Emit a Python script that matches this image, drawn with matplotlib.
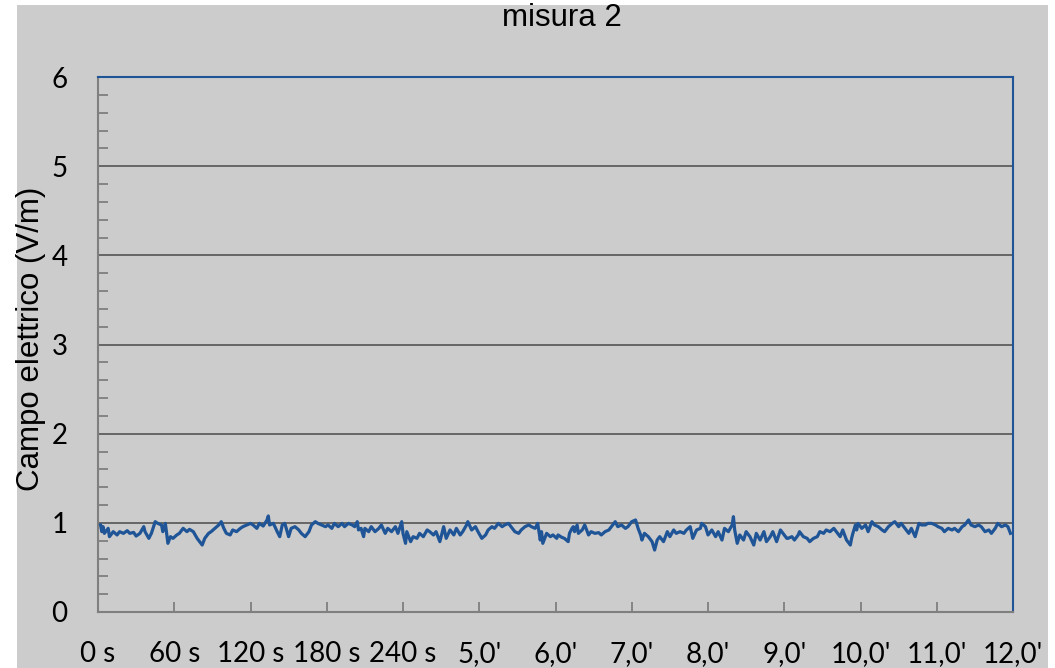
import matplotlib
matplotlib.use("Agg")
import matplotlib.pyplot as plt
from matplotlib.patches import Rectangle
from matplotlib.ticker import MultipleLocator
import numpy as np

# time (s) and electric field (V/m)
t_s = [2, 3, 4, 5, 8, 9, 12, 15, 17, 20, 23, 25, 28, 30, 33, 36, 37, 40, 42, 45,
       47, 50, 51, 53, 55, 57, 59, 62, 64, 67, 70, 72, 75, 78, 80, 82, 84, 87, 89, 92,
       95, 97, 99, 101, 104, 106, 109, 112, 114, 117, 120, 122, 125, 127, 130, 133, 134, 135, 138, 141,
       143, 145, 147, 150, 152, 155, 158, 160, 163, 166, 168, 171, 173, 176,
       179, 181, 184, 186, 189, 192, 194, 197, 200, 202, 204, 205, 207, 209, 210, 213,
       215, 218, 221, 223, 226, 228, 231, 234, 236, 239, 240, 242, 243, 246, 248, 251,
       253, 256, 259, 261, 264, 266, 269, 272, 274, 277, 280, 282, 285, 287, 290, 291,
       294, 297, 299, 302, 305, 307, 310, 312, 315, 318, 320, 323, 325, 328, 331, 333,
       336, 339, 341, 344, 346, 348, 349, 350, 353, 356, 358, 361,
       362, 365, 367, 370, 371, 373, 374, 375, 377, 378, 381, 383, 386, 388, 391, 394,
       396, 399, 402, 404, 407, 409, 412, 415, 417, 420, 423, 425, 427, 428, 430, 433,
       436, 438, 440, 442, 445, 448, 450, 453, 455, 458, 461, 463, 466, 468, 471, 474,
       475, 478, 480, 483, 486, 488, 491, 493, 496, 499, 500, 501, 503, 505, 508, 510,
       513, 516, 518, 521, 524, 526, 529, 531, 534, 537, 539, 542,
       543, 546, 548, 551, 552, 555, 558, 560, 563, 566, 568, 571, 573, 576, 579, 581,
       584, 586, 589, 592, 593, 594, 596, 597, 598, 601, 604, 606, 609, 611, 614, 617,
       619, 622, 625, 627, 630, 632, 635, 638, 640, 643, 646, 648, 651, 653, 656, 659,
       661, 664, 666, 669, 672, 674, 677, 680, 682, 685, 687, 690, 693, 695, 698, 701,
       703, 706, 708, 711, 714, 716, 718]
campo = [0.976, 0.901, 0.957, 0.882, 0.938, 0.845, 0.901, 0.864, 0.901, 0.882, 0.912, 0.882, 0.893, 0.852, 0.882, 0.957, 0.901, 0.826, 0.882, 1.013,
         0.994, 0.976, 0.901, 0.994, 0.770, 0.845, 0.826, 0.864, 0.882, 0.938, 0.901, 0.927, 0.901, 0.826, 0.789, 0.751, 0.826, 0.882, 0.901, 0.938,
         0.976, 1.013, 0.938, 0.882, 0.864, 0.920, 0.901, 0.938, 0.957, 0.976, 0.994, 0.976, 0.938, 0.994, 0.964, 1.032, 1.077, 0.976, 0.994, 0.901,
         0.845, 0.976, 0.994, 0.845, 0.938, 0.957, 0.920, 0.882, 0.845, 0.901, 0.976, 1.013, 0.994, 0.976,
         0.957, 0.976, 0.938, 0.994, 0.957, 0.994, 0.957, 0.994, 0.976, 0.957, 1.013, 0.920, 0.938, 0.845, 0.938, 0.901,
         0.957, 0.901, 0.938, 0.976, 0.882, 0.938, 0.901, 0.957, 0.882, 1.013, 0.882, 0.770, 0.901, 0.789, 0.845, 0.826,
         0.882, 0.845, 0.920, 0.901, 0.864, 0.901, 0.789, 0.957, 0.826, 0.920, 0.864, 0.938, 0.864, 0.901, 0.976, 1.013,
         0.920, 0.957, 0.901, 0.826, 0.864, 0.920, 0.957, 0.938, 0.994, 0.957, 0.976, 0.994, 0.957, 0.901, 0.882, 0.920,
         0.957, 0.976, 0.957, 0.938, 0.994, 0.807, 0.901, 0.770, 0.882, 0.845, 0.864, 0.826,
         0.864, 0.837, 0.826, 0.789, 0.882, 0.938, 0.957, 0.901, 0.976, 0.882, 0.920, 0.976, 0.864, 0.901, 0.882, 0.890,
         0.864, 0.901, 0.920, 0.957, 1.013, 0.957, 0.976, 0.938, 0.957, 1.013, 1.032, 0.938, 0.864, 0.807, 0.882, 0.845,
         0.789, 0.695, 0.807, 0.845, 0.789, 0.901, 0.845, 0.920, 0.882, 0.901, 0.882, 0.920, 0.957, 0.826, 0.920, 0.938,
         0.994, 0.957, 0.864, 0.920, 0.845, 0.901, 0.807, 0.938, 0.901, 0.976, 1.069, 0.920, 0.770, 0.864, 0.807, 0.901,
         0.845, 0.751, 0.882, 0.807, 0.901, 0.789, 0.845, 0.901, 0.789, 0.920, 0.882, 0.826,
         0.826, 0.845, 0.807, 0.864, 0.901, 0.845, 0.826, 0.789, 0.826, 0.845, 0.901, 0.882, 0.920, 0.901, 0.938, 0.901,
         0.845, 0.920, 0.807, 0.751, 0.826, 0.882, 0.976, 0.920, 0.994, 0.938, 0.976, 0.901, 1.013, 0.976, 0.957, 0.920,
         0.901, 0.957, 0.994, 1.013, 0.957, 0.994, 0.938, 0.882, 0.938, 0.845, 0.994, 0.976, 0.976, 0.994, 0.994, 0.976,
         0.957, 0.938, 0.901, 0.938, 0.920, 0.938, 0.901, 0.957, 0.976, 1.032, 0.976, 0.957, 0.976, 0.957, 0.901, 0.920,
         0.882, 0.938, 0.994, 0.957, 0.976, 0.957, 0.882]

tick_pos = [0, 60, 120, 180, 240, 300, 360, 420, 480, 540, 600, 660, 720]
tick_lab = ["0 s", "60 s", "120 s", "180 s", "240 s", "5,0'", "6,0'", "7,0'",
            "8,0'", "9,0'", "10,0'", "11,0'", "12,0'"]

bg = '#cccccc'
axis_gray = '#7f7f7f'
blue = '#1f5597'

fig = plt.figure(figsize=(10.55, 6.68), dpi=100, facecolor='white')
fig.patches.append(Rectangle((17 / 1055, 0), 1031 / 1055, 663 / 668,
                             transform=fig.transFigure, facecolor=bg,
                             edgecolor='none', zorder=-10))
ax = fig.add_axes([98 / 1055, 1 - 612 / 668, 915 / 1055, 535 / 668])
ax.set_facecolor(bg)

ax.plot(t_s, campo, color=blue, lw=2.3, zorder=3)

ax.set_xlim(0, 720)
ax.set_ylim(0, 6)
ax.set_yticks(range(0, 7))
ax.yaxis.set_minor_locator(MultipleLocator(0.2))
ax.set_xticks(tick_pos)
ax.set_xticklabels(tick_lab)
for y in range(1, 6):
    ax.axhline(y, color='#666666', lw=1.4, zorder=2)

for s in ['left', 'bottom']:
    ax.spines[s].set_color(axis_gray)
    ax.spines[s].set_linewidth(1.5)
for s in ['top', 'right']:
    ax.spines[s].set_color(blue)
    ax.spines[s].set_linewidth(1.5)

ax.tick_params(axis='y', which='major', direction='in', length=0, pad=22,
               labelsize=20, labelcolor='black')
ax.tick_params(axis='y', which='minor', direction='in', length=7,
               width=1.3, color=axis_gray)
ax.tick_params(axis='x', which='major', direction='in', length=7,
               width=1.3, color=axis_gray, pad=21, labelsize=20)
for lab in ax.get_xticklabels() + ax.get_yticklabels():
    lab.set_family('Lato')

ax.set_ylabel('Campo elettrico (V/m)', fontsize=22.5, family='Liberation Sans')
ax.yaxis.set_label_coords(-0.057, 0.51)
fig.text(562 / 1055, 1 - 18 / 668, 'misura 2', fontsize=22.5,
         family='Liberation Sans', ha='center', va='center')

plt.savefig('out.png', dpi=100, facecolor='white')
